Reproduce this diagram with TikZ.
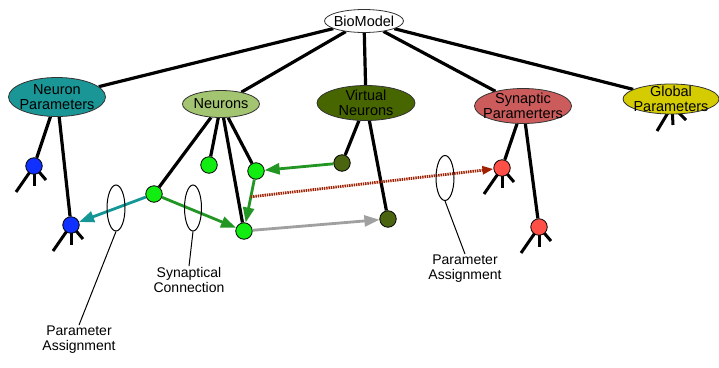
\documentclass[tikz,border=0pt]{standalone}
\usepackage{fontspec}
\setmainfont{Liberation Sans}
\usetikzlibrary{shapes.geometric,arrows.meta,calc,backgrounds}

\definecolor{npteal}{RGB}{26,150,150}
\definecolor{neuolive}{RGB}{163,196,112}
\definecolor{vndark}{RGB}{72,102,0}
\definecolor{spred}{RGB}{204,92,92}
\definecolor{gpyellow}{RGB}{212,204,0}
\definecolor{instblue}{RGB}{16,48,255}
\definecolor{instgreen}{RGB}{17,236,17}
\definecolor{instdark}{RGB}{74,100,16}
\definecolor{instred}{RGB}{255,80,72}
\definecolor{linkteal}{RGB}{20,150,150}
\definecolor{linkgreen}{RGB}{34,150,34}
\definecolor{linkgray}{RGB}{160,160,160}
\definecolor{linkred}{RGB}{160,32,0}

\begin{document}
\begin{tikzpicture}[x=1pt,y=-1pt,
  cat/.style={ellipse, draw=black!80, line width=0.8pt, inner sep=0pt},
  catlabel/.style={align=center, font=\fontsize{14.5}{15}\selectfont, inner sep=0pt},
  inst/.style={circle, draw=black, line width=0.8pt, minimum size=16.5pt, inner sep=0pt},
  tree/.style={line width=3.2pt},
  foot/.style={line width=3pt},
  link/.style={line width=2.8pt, -{Triangle[length=15pt,width=11pt]}},
  assign/.style={line width=2.8pt, dash pattern=on 1.4pt off 0.9pt,
    -{Triangle[length=11pt,width=8pt]}},
  note/.style={ellipse, draw, line width=1pt, inner sep=0pt},
  notetext/.style={align=center, font=\fontsize{14}{15}\selectfont, inner sep=1pt},
  pointer/.style={line width=1pt}
]
\path[use as bounding box] (0,0) rectangle (719,367);

% category ellipses
\node[cat, fill=white,    minimum width=79pt, minimum height=23pt] (bio) at (364,21) {};
\node[cat, fill=npteal,   minimum width=97pt, minimum height=39pt] (np)  at (57,97)  {};
\node[cat, fill=neuolive, minimum width=77pt, minimum height=27pt] (neu) at (221,104) {};
\node[cat, fill=vndark,   minimum width=98pt, minimum height=35pt] (vn)  at (366,103) {};
\node[cat, fill=spred,    minimum width=97pt, minimum height=35pt] (sp)  at (523,106) {};
\node[cat, fill=gpyellow, minimum width=96pt, minimum height=30pt] (gp)  at (671,99)  {};

\node[catlabel] (bio-t) at (bio) {BioModel};
\node[catlabel] (np-t)  at (np)  {Neuron\\Parameters};
\node[catlabel] (neu-t) at (neu) {Neurons};
\node[catlabel] (vn-t)  at (vn)  {Virtual\\Neurons};
\node[catlabel] (sp-t)  at (sp)  {Synaptic\\Paramerters};
\node[catlabel] (gp-t)  at (gp)  {Global\\Parameters};

% instances
\node[inst, fill=instblue]  (b1) at (34,166)  {};
\node[inst, fill=instblue]  (b2) at (71,225)  {};
\node[inst, fill=instgreen] (nA) at (154,194) {};
\node[inst, fill=instgreen] (nB) at (209,165) {};
\node[inst, fill=instgreen] (nC) at (256,171) {};
\node[inst, fill=instgreen] (nD) at (244,231) {};
\node[inst, fill=instdark]  (vE) at (342,163) {};
\node[inst, fill=instdark]  (vF) at (388,219) {};
\node[inst, fill=instred]   (sG) at (502,168) {};
\node[inst, fill=instred]   (sH) at (539,227) {};

% hierarchy and parameter feet, behind the shapes
\begin{pgfonlayer}{background}
  \fill[white] (0,0) rectangle (719,367);
  \draw[tree] (bio) -- (np);
  \draw[tree] (bio) -- (neu);
  \draw[tree] (bio) -- (vn);
  \draw[tree] (bio) -- (sp);
  \draw[tree] (bio) -- (gp);
  \draw[tree] (np) -- (b1);
  \draw[tree] (np) -- (b2);
  \draw[tree] (neu) -- (nA);
  \draw[tree] (neu) -- (nB);
  \draw[tree] (neu) -- (nC);
  \draw[tree] (neu) -- (nD);
  \draw[tree] (vn) -- (vE);
  \draw[tree] (vn) -- (vF);
  \draw[tree] (sp) -- (sG);
  \draw[tree] (sp) -- (sH);
  \foreach \n in {b1,b2,sG,sH}{
    \draw[foot] (\n.center) -- ++(-18,26);
    \draw[foot] (\n.center) -- ++(0,20);
    \draw[foot] (\n.center) -- ++(12,14);
  }
  \coordinate (gpf) at ([shift={(1,7)}]gp.center);
  \draw[foot] (gpf) -- ++(-15,25);
  \draw[foot] (gpf) -- ++(1,19);
  \draw[foot] (gpf) -- ++(14,14);
\end{pgfonlayer}

% connections between instances
\draw[link, linkteal]  (nA) -- (b2);
\draw[link, linkgreen] (nA) -- (nD);
\draw[link, linkgreen] (vE) -- (nC);
\draw[link, linkgreen] (nC) -- (nD);
\draw[link, linkgray]  (nD) -- (vF);
\coordinate (syn) at ($(nC)!0.43!(nD)$);
\draw[assign, linkred] (syn) -- (sG);

% annotations
\node[note, minimum width=18pt, minimum height=46pt] (e1) at (116,208) {};
\node[note, minimum width=17pt, minimum height=46pt] (e2) at (193,208) {};
\node[note, minimum width=18pt, minimum height=45pt] (e3) at (445,178) {};
\node[notetext] (l1) at (79,340)  {Parameter\\Assignment};
\node[notetext] (l2) at (189,280) {Synaptical\\Connection};
\node[notetext] (l3) at (465,269) {Parameter\\Assignment};
\draw[pointer] (e1.south) -- (l1.north);
\draw[pointer] (e2.south) -- (l2.north);
\draw[pointer] (e3.south) -- (l3.north);
\end{tikzpicture}
\end{document}
